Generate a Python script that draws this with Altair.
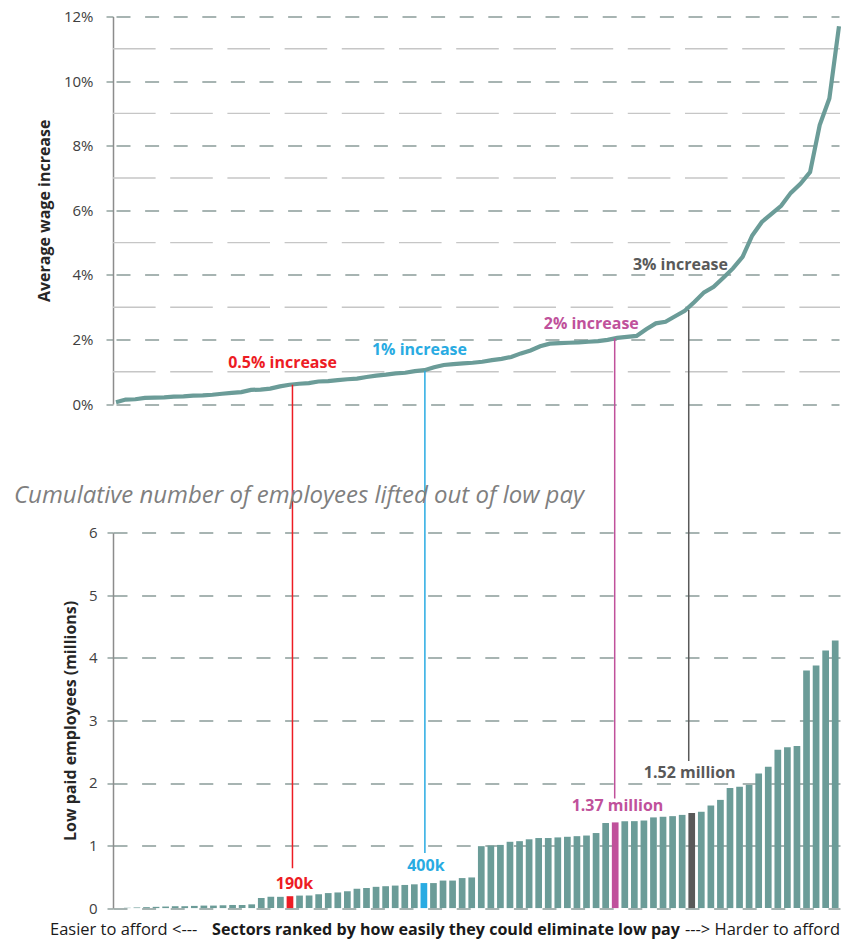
import altair as alt
import pandas as pd

# ---------------- data ----------------
wage_increase = [0.06, 0.14, 0.15, 0.19, 0.20, 0.21, 0.23, 0.24, 0.26, 0.27,
                 0.29, 0.32, 0.35, 0.37, 0.44, 0.45, 0.48, 0.55, 0.60, 0.63,
                 0.65, 0.70, 0.71, 0.74, 0.77, 0.79, 0.84, 0.88, 0.91, 0.95,
                 0.97, 1.02, 1.05, 1.14, 1.21, 1.24, 1.26, 1.28, 1.31, 1.36,
                 1.40, 1.46, 1.57, 1.66, 1.79, 1.87, 1.89, 1.90, 1.91, 1.93,
                 1.95, 1.99, 2.05, 2.08, 2.11, 2.32, 2.50, 2.55, 2.72, 2.89,
                 3.16, 3.46, 3.63, 3.91, 4.20, 4.56, 5.22, 5.64, 5.89, 6.14,
                 6.54, 6.82, 7.18, 8.64, 9.46, 11.7]
employees = [0.0, 0.005, 0.01, 0.015, 0.02, 0.025, 0.03, 0.03, 0.035, 0.04,
             0.04, 0.045, 0.05, 0.05, 0.06, 0.16, 0.18, 0.18, 0.19, 0.20,
             0.20, 0.22, 0.24, 0.25, 0.27, 0.31, 0.32, 0.34, 0.35, 0.36,
             0.37, 0.38, 0.40, 0.40, 0.44, 0.44, 0.48, 0.49, 0.99, 1.00,
             1.01, 1.06, 1.07, 1.10, 1.12, 1.12, 1.13, 1.14, 1.15, 1.16,
             1.20, 1.36, 1.37, 1.39, 1.39, 1.40, 1.45, 1.46, 1.47, 1.49,
             1.52, 1.54, 1.64, 1.73, 1.92, 1.94, 1.97, 2.15, 2.26, 2.53,
             2.57, 2.59, 3.80, 3.88, 4.12, 4.28]
highlight_idx = [18, 32, 52, 60]
highlight_colors = ["#ed1c24", "#29abe2", "#c0519b", "#595959"]
top_labels = ["0.5% increase", "1% increase", "2% increase", "3% increase"]
bottom_labels = ["190k", "400k", "1.37 million", "1.52 million"]
connector_top = [0.60, 1.03, 2.04, 2.91]   # wage % where each connector meets the line
major_top = [0, 2, 4, 6, 8, 10, 12]
minor_top = [1, 3, 5, 7, 9, 11]
major_bottom = [0, 1, 2, 3, 4, 5, 6]
subtitle = "Cumulative number of employees lifted out of low pay"
caption_left = "Easier to afford <---"
caption_mid = "Sectors ranked by  how easily they could eliminate low pay"
caption_right = "---> Harder to afford"

assert len(wage_increase) == 76 and len(employees) == 76

# ---------------- layout / style ----------------
W = 727
H_TOP = 387.6        # plot-y of 0% in the top panel
B_TOP = 516.3        # plot-y of 6 in the bottom panel
B_BOT = 891.6        # plot-y of 0 in the bottom panel
H = B_BOT
BPX = (B_BOT - B_TOP) / 6.0

TEAL = "#6b9c98"
GRID = "#8b9c99"
MINOR = "#c6c6c6"
AXIS = "#8c8c8c"
FONT = "Open Sans"

conn_end_px = [28, 30, 24, 52]          # connector end above bar top (px)
conn_xoff = [2.5, 1, -0.5, -3]
bot_lab_off = [(4.5, -7), (2, -12), (2.3, -11), (-2, -35)]
top_lab_off = [(-7, -17), (-5, -15), (-26, -9), (-14, -32)]

top_axis = alt.Axis(values=major_top, labelExpr="datum.value + '%'", orient="left",
                    title="Average wage increase", grid=True, gridDash=[14, 14.6],
                    gridColor=GRID, gridWidth=1.4, domain=True, domainColor=AXIS,
                    domainWidth=1.5, ticks=True, tickSize=7, tickColor=GRID, tickWidth=1.4,
                    labelPadding=13, labelFont=FONT, labelFontSize=15, labelColor="#404040",
                    titleFont=FONT, titleFontSize=16, titleFontWeight="bold",
                    titleColor="#262626", titlePadding=11)
bot_axis = alt.Axis(values=major_bottom, orient="left",
                    title="Low paid employees (millions)", grid=True, gridDash=[14, 14.6],
                    gridColor=GRID, gridWidth=1.4, domain=True, domainColor=AXIS,
                    domainWidth=1.5, ticks=True, tickSize=6, tickColor=GRID, tickWidth=1.4,
                    labelPadding=10, labelFont=FONT, labelFontSize=15, labelColor="#404040",
                    titleFont=FONT, titleFontSize=16, titleFontWeight="bold",
                    titleColor="#262626", titlePadding=10)

top_yscale = alt.Scale(domain=[0, 12], range=[H_TOP, 0])
bot_yscale = alt.Scale(domain=[0, 6], range=[B_BOT, B_TOP])
top_xscale = alt.Scale(domain=[0, 75], range=[3, W - 1])
bot_xscale = alt.Scale(paddingInner=0.3, paddingOuter=0.15)


def ytop(f):
    return alt.Y(f, type="quantitative", scale=top_yscale, axis=top_axis)


def ybot(f):
    return alt.Y(f, type="quantitative", scale=bot_yscale, axis=bot_axis)


xtop = alt.X("idx:Q", scale=top_xscale, axis=None)
xbot = alt.X("idx:O", scale=bot_xscale, axis=None)

line_df = pd.DataFrame({"idx": list(range(len(wage_increase))), "w": wage_increase})
minor_df = pd.DataFrame({"v": minor_top})

# ---------------- top panel ----------------
top_layers = [
    alt.Chart(minor_df).mark_rule(color=MINOR, strokeWidth=1.4, strokeDash=[42.6, 14.6])
    .encode(y=ytop("v"), x=alt.value(0), x2=alt.value(W)),
    alt.Chart(line_df).mark_line(color=TEAL, strokeWidth=4.2)
    .encode(x=xtop, y=ytop("w")),
]
for k, i in enumerate(highlight_idx):
    dfk = pd.DataFrame({"idx": [i], "w": [wage_increase[i]], "t": [top_labels[k]]})
    top_layers.append(
        alt.Chart(dfk).mark_text(font=FONT, fontSize=16, fontWeight="bold",
                                 color=highlight_colors[k], align="center",
                                 baseline="alphabetic", dx=top_lab_off[k][0],
                                 dy=top_lab_off[k][1])
        .encode(x=xtop, y=ytop("w"), text="t:N"))
top = alt.layer(*top_layers)

# ---------------- bottom panel ----------------
grp = ["base"] * len(employees)
for k, i in enumerate(highlight_idx):
    grp[i] = "h%d" % k
bar_df = pd.DataFrame({"idx": list(range(len(employees))), "emp": employees, "grp": grp})

bottom_layers = [
    alt.Chart(bar_df).mark_bar().encode(
        x=xbot, y=ybot("emp"),
        color=alt.Color("grp:N", legend=None,
                        scale=alt.Scale(domain=["base", "h0", "h1", "h2", "h3"],
                                        range=[TEAL] + highlight_colors)))
]
for k, i in enumerate(highlight_idx):
    b_end = employees[i] + conn_end_px[k] / BPX
    top_py = (12 - connector_top[k]) / 12.0 * H_TOP
    b_top = (B_BOT - top_py) / BPX
    cdf = pd.DataFrame({"idx": [i], "b1": [b_end], "b2": [b_top]})
    bottom_layers.append(
        alt.Chart(cdf).mark_rule(color=highlight_colors[k], strokeWidth=1.5,
                                 xOffset=conn_xoff[k])
        .encode(x=xbot, y=ybot("b1"), y2="b2:Q"))
    ldf = pd.DataFrame({"idx": [i], "emp": [employees[i]], "t": [bottom_labels[k]]})
    bottom_layers.append(
        alt.Chart(ldf).mark_text(font=FONT, fontSize=16, fontWeight="bold",
                                 color=highlight_colors[k], align="center",
                                 baseline="alphabetic", dx=bot_lab_off[k][0],
                                 dy=bot_lab_off[k][1])
        .encode(x=xbot, y=ybot("emp"), text="t:N"))

CAP_Y = 918.5
bottom_layers.append(
    alt.Chart(pd.DataFrame({"t": [subtitle]})).mark_text(
        font=FONT, fontSize=24, fontStyle="italic", color="#7f7f7f",
        align="left", baseline="alphabetic")
    .encode(text="t:N", x=alt.value(-99), y=alt.value(487)))
bottom_layers.append(
    alt.Chart(pd.DataFrame({"t": [caption_left]})).mark_text(
        font=FONT, fontSize=16.5, color="#1a1a1a", align="left", baseline="alphabetic")
    .encode(text="t:N", x=alt.value(-63), y=alt.value(CAP_Y)))
bottom_layers.append(
    alt.Chart(pd.DataFrame({"t": [caption_mid]})).mark_text(
        font=FONT, fontSize=16.1, fontWeight="bold", color="#1a1a1a", align="center",
        baseline="alphabetic")
    .encode(text="t:N", x=alt.value(333), y=alt.value(CAP_Y)))
bottom_layers.append(
    alt.Chart(pd.DataFrame({"t": [caption_right]})).mark_text(
        font=FONT, fontSize=16.5, color="#1a1a1a", align="right", baseline="alphabetic")
    .encode(text="t:N", x=alt.value(W), y=alt.value(CAP_Y)))
bottom = alt.layer(*bottom_layers)

chart = (
    alt.layer(top, bottom)
    .resolve_scale(y="independent", x="independent", color="independent")
    .properties(width=W, height=H,
                autosize=alt.AutoSizeParams(type="none"),
                padding={"left": 105, "top": 8.5, "right": 1, "bottom": 31.5})
    .configure_view(stroke=None)
)

chart.save("out.html", embed_options={"renderer": "svg", "actions": False})
